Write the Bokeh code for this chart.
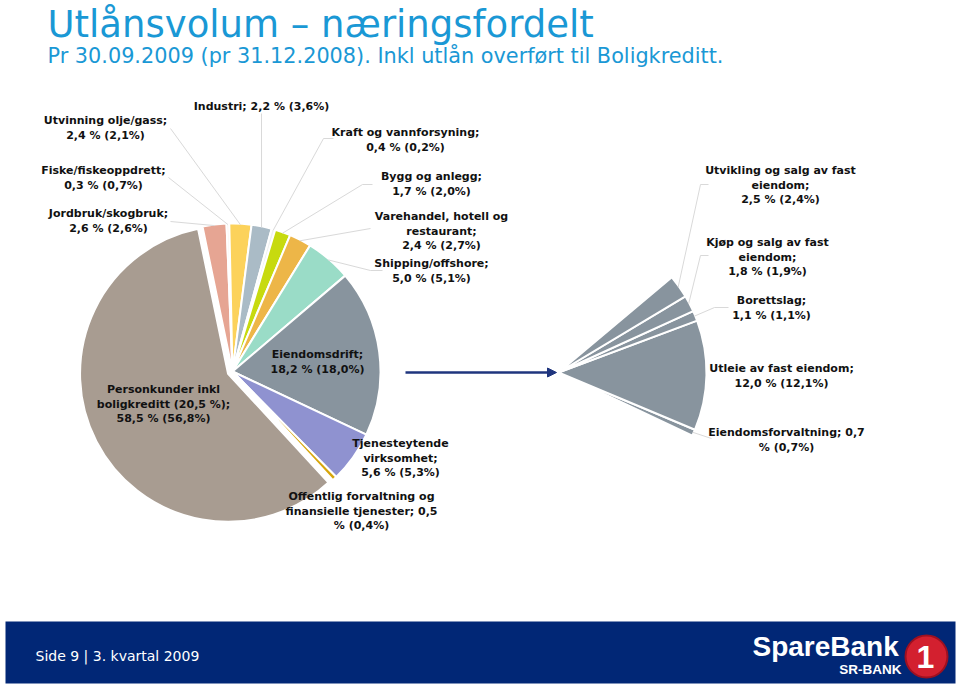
import numpy as np
from bokeh.plotting import figure
from bokeh.models import Range1d, Arrow, NormalHead
from bokeh.core.properties import value
from bokeh.embed import file_html
from bokeh.resources import INLINE

# ---------------- data ----------------
title = "Utlånsvolum – næringsfordelt"
subtitle = "Pr 30.09.2009 (pr 31.12.2008). Inkl utlån overført til Boligkreditt."
footer_text = "Side 9 | 3. kvartal 2009"

main_categories = ["Jordbruk/skogbruk", "Fiske/fiskeoppdrett", "Utvinning olje/gass",
                   "Industri", "Kraft og vannforsyning", "Bygg og anlegg",
                   "Varehandel, hotell og restaurant", "Shipping/offshore", "Eiendomsdrift",
                   "Tjenesteytende virksomhet", "Offentlig forvaltning og finansielle tjenester",
                   "Personkunder inkl boligkreditt (20,5 %)"]
main_share_2009 = [2.6, 0.3, 2.4, 2.2, 0.4, 1.7, 2.4, 5.0, 18.2, 5.6, 0.5, 58.5]
main_share_2008 = [2.6, 0.7, 2.1, 3.6, 0.2, 2.0, 2.7, 5.1, 18.0, 5.3, 0.4, 56.8]
split_category = "Eiendomsdrift"

sub_categories = ["Eiendomsforvaltning", "Utleie av fast eiendom", "Borettslag",
                  "Kjøp og salg av fast eiendom", "Utvikling og salg av fast eiendom"]
sub_share_2009 = [0.7, 12.0, 1.1, 1.8, 2.5]
sub_share_2008 = [0.7, 12.1, 1.1, 1.9, 2.4]

# ---------------- styling / layout ----------------
main_colors = ["#E6A593", "#F4EEE8", "#FCD25B", "#AABBC6", "#EEF1F2", "#C7DA0F",
               "#EDB648", "#9ADCC7", "#88949E", "#8F92D0", "#D7A60C", "#A89C91"]
sub_color = "#88949E"
W, H = 960, 686  # y_up = H - y_ref

R = 148
MAIN_C = (232, H - 371)
SUB_C = (558, H - 372)
START_DEG = 101.7
explode = [0, 0, 0, 0, 0, 0, 0, 0, 0, 0, 0, 5]

# words per line, first-line centre (x, y_ref), leader anchor points (ref coords)
main_wrap = [[1, 3], [1, 3], [2, 3], [4], [3, 3], [3, 3], [3, 1, 3], [1, 3], [1, 3], [1, 1, 3], [3, 3, 2], [2, 3, 3]]
main_pos = [(108, 213), (103, 170), (105, 120), (261, 106), (405, 132), (431, 176),
            (441, 216), (431, 263), (317, 354), (400, 443), (361, 496), (163, 389)]
main_lead = [[(170, 221)], [(168, 177)], [(170, 128)], [(261, 113)],
             [(333, 138), (323, 138)], [(372, 184), (362, 184)], [(370, 228)],
             [(382, 270), (370, 270)], None, None, None, None]

sub_wrap = [[2, 2], [4, 3], [1, 3], [5, 1, 3], [5, 1, 3]]
sub_pos = [(786, 432), (781, 368), (771, 300), (767, 242), (780, 170)]
sub_lead = [[(711, 438)], None, [(728, 307), (714, 307)], [(708, 255), (700, 255)],
            [(708, 184), (700, 184)]]
LINE_H = 14.5


def fmt(v):
    return f"{v:.1f}".replace(".", ",")


def label_lines(cat, v, prev, wrap):
    words = f"{cat}; {fmt(v)} % ({fmt(prev)}%)".split(" ")
    out, i = [], 0
    for n in wrap:
        out.append(" ".join(words[i:i + n]))
        i += n
    return out


p = figure(width=W, height=H, x_range=Range1d(0, W), y_range=Range1d(0, H),
           x_axis_type=None, y_axis_type=None, toolbar_location=None,
           output_backend="svg", min_border=0)
p.outline_line_color = None
p.background_fill_color = "white"
p.border_fill_color = "white"

# ---------------- main pie ----------------
tot = sum(main_share_2009)
deg = np.array(main_share_2009) / tot * 360.0
cum = np.concatenate([[0.0], np.cumsum(deg)])
hi = START_DEG - cum[:-1]
lo = START_DEG - cum[1:]
mid = (hi + lo) / 2.0
ex = np.array(explode, dtype=float)
mx = MAIN_C[0] + ex * np.cos(np.radians(mid))
my = MAIN_C[1] + ex * np.sin(np.radians(mid))
p.wedge(x=mx, y=my, radius=R, start_angle=np.radians(lo), end_angle=np.radians(hi),
        fill_color=main_colors, line_color="white", line_width=2)

# ---------------- secondary pie ----------------
k = main_categories.index(split_category)
sdeg = np.array(sub_share_2009) / tot * 360.0
scum = np.concatenate([[0.0], np.cumsum(sdeg)])
s_lo = lo[k] + scum[:-1]
s_hi = lo[k] + scum[1:]
s_mid = (s_lo + s_hi) / 2.0
p.wedge(x=SUB_C[0], y=SUB_C[1], radius=R, start_angle=np.radians(s_lo), end_angle=np.radians(s_hi),
        fill_color=sub_color, line_color="white", line_width=2)

# ---------------- leader lines ----------------
xs, ys = [], []
for i, anchors in enumerate(main_lead):
    if anchors is None:
        continue
    px = MAIN_C[0] + (R - 1) * np.cos(np.radians(mid[i]))
    py = MAIN_C[1] + (R - 1) * np.sin(np.radians(mid[i]))
    xs.append([a[0] for a in anchors] + [px])
    ys.append([H - a[1] for a in anchors] + [py])
for i, anchors in enumerate(sub_lead):
    if anchors is None:
        continue
    px = SUB_C[0] + (R - 1) * np.cos(np.radians(s_mid[i]))
    py = SUB_C[1] + (R - 1) * np.sin(np.radians(s_mid[i]))
    xs.append([a[0] for a in anchors] + [px])
    ys.append([H - a[1] for a in anchors] + [py])
p.multi_line(xs=xs, ys=ys, line_color="#D9D9D9", line_width=1)

# ---------------- arrow ----------------
navy = "#1F357E"
p.add_layout(Arrow(end=NormalHead(size=9, fill_color=navy, line_color=navy),
                   x_start=405, y_start=H - 372, x_end=556, y_end=H - 372,
                   line_color=navy, line_width=2.5))

# ---------------- labels ----------------
tx, ty, tt = [], [], []
for cat, v, pv, wrap, pos in zip(main_categories, main_share_2009, main_share_2008, main_wrap, main_pos):
    for j, line in enumerate(label_lines(cat, v, pv, wrap)):
        tx.append(pos[0]); ty.append(H - pos[1] - j * LINE_H); tt.append(line)
for cat, v, pv, wrap, pos in zip(sub_categories, sub_share_2009, sub_share_2008, sub_wrap, sub_pos):
    for j, line in enumerate(label_lines(cat, v, pv, wrap)):
        tx.append(pos[0]); ty.append(H - pos[1] - j * LINE_H); tt.append(line)
p.text(x=tx, y=ty, text=tt, text_align="center", text_baseline="middle",
       text_font=value("DejaVu Sans"), text_font_style="bold", text_font_size="11px",
       text_color="#111111")

# ---------------- title ----------------
blue = "#1A98D5"
p.text(x=[47], y=[H - 24], text=[title], text_align="left", text_baseline="middle",
       text_font=value("DejaVu Sans"), text_font_size="37px", text_color=blue)
p.text(x=[47], y=[H - 55], text=[subtitle], text_align="left", text_baseline="middle",
       text_font=value("DejaVu Sans"), text_font_size="20.8px", text_color=blue)

# ---------------- footer ----------------
p.quad(left=[5], right=[955], top=[H - 621], bottom=[H - 683], fill_color="#012776", line_color=None)
p.text(x=[35], y=[H - 655], text=[footer_text], text_align="left", text_baseline="middle",
       text_font=value("DejaVu Sans"), text_font_size="14px", text_color="white")
p.text(x=[752], y=[H - 646], text=["SpareBank"], text_align="left", text_baseline="middle",
       text_font=value("Liberation Sans"), text_font_style="bold", text_font_size="28px",
       text_color="white")
p.text(x=[901], y=[H - 669], text=["SR-BANK"], text_align="right", text_baseline="middle",
       text_font=value("Liberation Sans"), text_font_style="bold", text_font_size="13.5px",
       text_color="white")
p.circle(x=[926], y=[H - 656], radius=21, fill_color="#D3202F", line_color="#9E1020", line_width=2)
p.text(x=[925], y=[H - 656], text=["1"], text_align="center", text_baseline="middle",
       text_font=value("Liberation Sans"), text_font_style="bold", text_font_size="32px",
       text_color="white")

open("out.html", "w").write(file_html(p, INLINE))
